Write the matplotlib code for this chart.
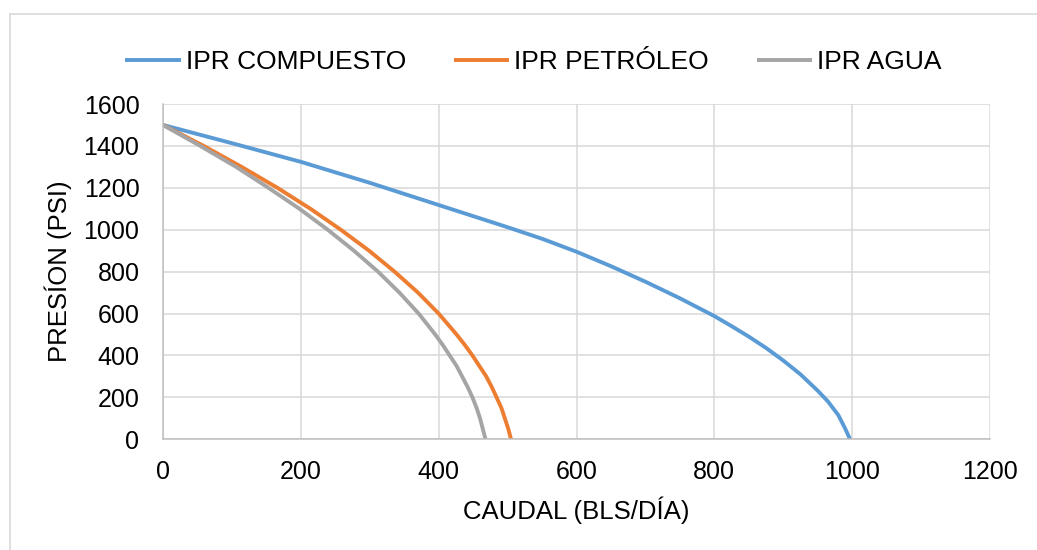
import matplotlib.pyplot as plt
from matplotlib.lines import Line2D

plt.rcParams['font.family'] = ['Liberation Sans', 'DejaVu Sans']

# IPR compuesto (caudal, presion)
q_compuesto = [0, 100, 200, 300, 400, 500, 550, 600, 650, 700, 750, 800,
               825, 850, 875, 900, 925, 950, 965, 980, 990, 997]
p_compuesto = [1500, 1413, 1324, 1224, 1118, 1012, 957, 895, 826, 752, 673, 588,
               540, 490, 436, 376, 310, 232, 180, 115, 50, 0]

# presiones de fondo comunes para petroleo y agua
p_fondo = [1500, 1400, 1300, 1200, 1100, 1000, 900, 800, 700, 600, 500, 450, 400, 350,
           300, 250, 200, 150, 100, 50, 0]
q_petroleo = [0, 59, 114, 166, 214, 258, 299, 336, 370, 400, 426, 438, 449, 459,
              469, 477, 484, 491, 496, 501, 505]
q_agua = [0, 54, 106, 153, 198, 239, 277, 312, 343, 371, 395, 406, 416, 426,
          434, 442, 449, 455, 460, 464, 468]

x_ticks = [0, 200, 400, 600, 800, 1000, 1200]
y_ticks = [0, 200, 400, 600, 800, 1000, 1200, 1400, 1600]

W, H = 1037, 550
fig = plt.figure(figsize=(W / 100, H / 100), dpi=100)
ax = fig.add_axes([163 / W, 1 - 439.3 / H, 827 / W, 335.3 / H])

ax.plot(q_compuesto, p_compuesto, color='#5B9BD5', lw=2.8, label='IPR COMPUESTO', solid_capstyle='butt')
ax.plot(q_petroleo, p_fondo, color='#ED7D31', lw=2.8, label='IPR PETRÓLEO', solid_capstyle='butt')
ax.plot(q_agua, p_fondo, color='#A5A5A5', lw=2.8, label='IPR AGUA', solid_capstyle='butt')

ax.set_xlim(0, 1200)
ax.set_ylim(0, 1600)
ax.set_xticks(x_ticks)
ax.set_yticks(y_ticks)
ax.grid(True, color='#D9D9D9', lw=1.1)
ax.set_axisbelow(True)
for s in ['top', 'right']:
    ax.spines[s].set_visible(False)
for s in ['left', 'bottom']:
    ax.spines[s].set_color('#BFBFBF')
    ax.spines[s].set_linewidth(1.1)
ax.tick_params(length=0, labelsize=18, colors='#000000')
ax.tick_params(axis='x', pad=15)
ax.tick_params(axis='y', pad=17)

ax.set_xlabel('CAUDAL (BLS/DÍA)', fontsize=18.5, va='center')
ax.set_ylabel('PRESÍON (PSI)', fontsize=18.5, va='center')
ax.xaxis.set_label_coords(0.5, (439.3 - 510) / 335.3)
ax.yaxis.set_label_coords((58 - 163) / 827, 0.5)

fig.legend(loc='center', bbox_to_anchor=(533.5 / W, 1 - 62 / H), ncol=3, frameon=False,
           fontsize=19, handlelength=2.1, handletextpad=0.2, columnspacing=1.8)

# borde exterior del area del grafico
fig.add_artist(Line2D([10 / W, 10 / W], [0, 1 - 14 / H], color='#D9D9D9', lw=1.2))
fig.add_artist(Line2D([10 / W, 1], [1 - 14 / H, 1 - 14 / H], color='#D9D9D9', lw=1.2))

fig.savefig('out.png', dpi=100)
